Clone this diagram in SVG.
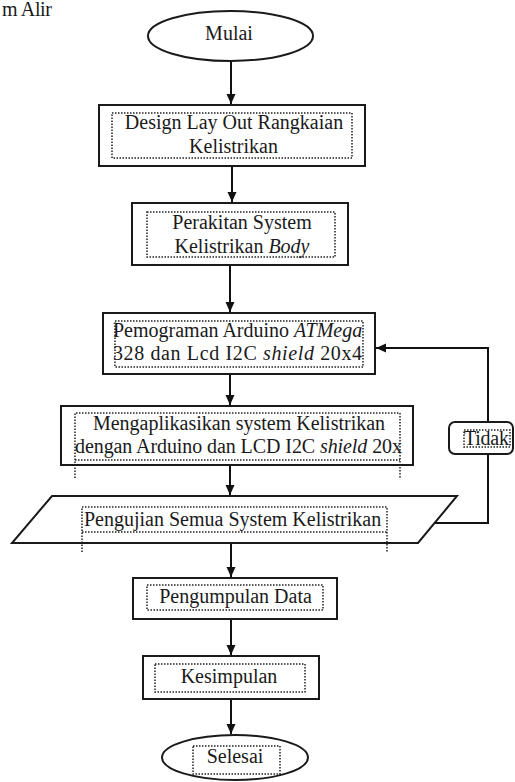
<svg xmlns="http://www.w3.org/2000/svg" width="515" height="782" viewBox="0 0 515 782">
<defs>
<marker id="ah" markerWidth="10" markerHeight="10" refX="10" refY="5" orient="auto" markerUnits="userSpaceOnUse">
<path d="M0,0.5 L10,5 L0,9.5 z" fill="#111"/>
</marker>
<style>
.box{fill:#fff;stroke:#1a1a1a;stroke-width:2}
.frm{fill:none;stroke:#222;stroke-width:1.5;stroke-dasharray:1.5 1.5}
.t{font-family:"Liberation Serif","Times New Roman",serif;font-size:20px;fill:#1a1a1a}
.c{text-anchor:middle}
.con{fill:none;stroke:#111;stroke-width:2}
</style>
</defs>
<rect width="515" height="782" fill="#fff"/>
<text class="t" x="2" y="16" font-size="17" textLength="50">m Alir</text>

<g id="connectors">
<line class="con" x1="231" y1="61" x2="231" y2="104" marker-end="url(#ah)"/>
<line class="con" x1="232" y1="166" x2="232" y2="202" marker-end="url(#ah)"/>
<line class="con" x1="230" y1="265" x2="230" y2="312" marker-end="url(#ah)"/>
<line class="con" x1="230" y1="374" x2="230" y2="405" marker-end="url(#ah)"/>
<line class="con" x1="230" y1="465" x2="230" y2="495" marker-end="url(#ah)"/>
<line class="con" x1="231" y1="543" x2="231" y2="577" marker-end="url(#ah)"/>
<line class="con" x1="231" y1="619" x2="231" y2="655" marker-end="url(#ah)"/>
<line class="con" x1="231" y1="699" x2="231" y2="734" marker-end="url(#ah)"/>
<path class="con" d="M435,523 H488 V454"/>
<path class="con" d="M488,422 V348 H376" marker-end="url(#ah)"/>
</g>

<g id="mulai">
<ellipse class="box" cx="230.5" cy="36" rx="82.5" ry="25"/>
<text class="t c" x="229" y="40">Mulai</text>
</g>

<g id="design">
<rect class="box" x="99" y="105" width="266" height="61"/>
<rect class="frm" x="112" y="113" width="240" height="45"/>
<text class="t c" x="234" y="129">Design Lay Out Rangkaian</text>
<text class="t c" x="233.5" y="153">Kelistrikan</text>
</g>

<g id="perakitan">
<rect class="box" x="132" y="203" width="216" height="62"/>
<rect class="frm" x="147" y="212" width="188" height="45"/>
<text class="t c" x="242" y="229">Perakitan System</text>
<text class="t c" x="242" y="253">Kelistrikan <tspan font-style="italic">Body</tspan></text>
</g>

<g id="pemograman">
<rect class="box" x="103" y="313" width="272" height="61"/>
<rect class="frm" x="115" y="321" width="248" height="46"/>
<text class="t" x="113" y="337">Pemograman Arduino <tspan font-style="italic">ATMega</tspan></text>
<text class="t" x="113" y="360" textLength="249">328 dan Lcd I2C <tspan font-style="italic">shield</tspan> 20x4</text>
</g>

<g id="mengaplikasikan">
<rect class="box" x="61" y="406" width="352" height="59"/>
<path class="frm" d="M75,478 V413 H400 V478 M75,460 H400"/>
<text class="t c" x="239" y="430">Mengaplikasikan system Kelistrikan</text>
<text class="t" x="75" y="453" textLength="327">dengan Arduino dan LCD I2C <tspan font-style="italic">shield</tspan> 20x</text>
</g>

<g id="pengujian">
<polygon class="box" points="52,496 457,496 418,543 12,543"/>
<path class="frm" d="M82,552 V507 H387 V552 M82,532 H387"/>
<text class="t" x="84" y="526">Pengujian Semua System Kelistrikan</text>
</g>

<g id="tidak">
<rect class="box" x="449" y="422" width="64" height="32" rx="6"/>
<rect class="frm" x="464" y="430" width="46" height="17"/>
<text class="t" x="464" y="445" textLength="45">Tidak</text>
</g>

<g id="pengumpulan">
<rect class="box" x="133" y="578" width="204" height="41"/>
<rect class="frm" x="147" y="585" width="176" height="25"/>
<text class="t c" x="235.5" y="603">Pengumpulan Data</text>
</g>

<g id="kesimpulan">
<rect class="box" x="143" y="656" width="176" height="43"/>
<rect class="frm" x="155" y="664" width="150" height="28"/>
<text class="t c" x="229" y="683">Kesimpulan</text>
</g>

<g id="selesai">
<ellipse class="box" cx="235" cy="757.5" rx="73" ry="22.5"/>
<rect class="frm" x="193" y="746" width="87" height="28"/>
<text class="t c" x="235" y="763">Selesai</text>
</g>
</svg>
